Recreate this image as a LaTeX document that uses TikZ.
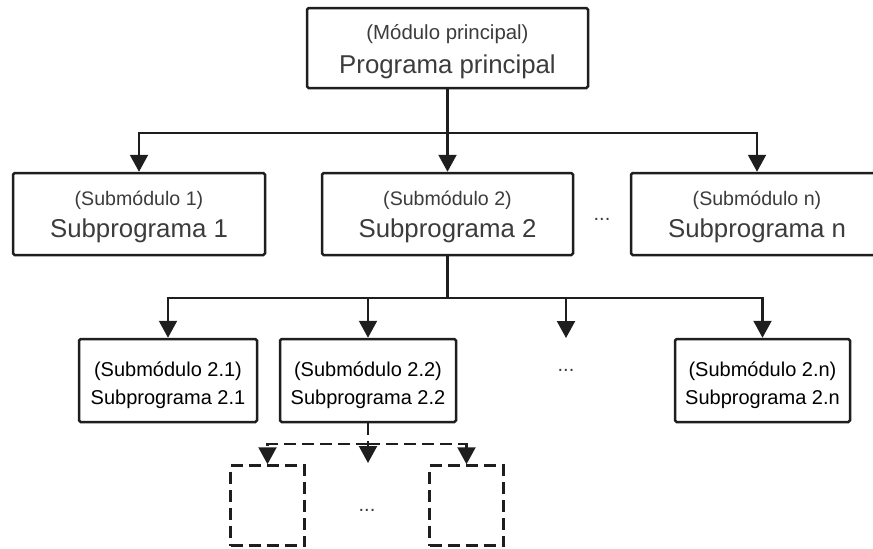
\documentclass[tikz,border=0pt]{standalone}
\usepackage{fontspec}
\setmainfont{Liberation Sans}
\usetikzlibrary{arrows.meta}
\definecolor{ink}{HTML}{1E1E1E}
\definecolor{txt}{HTML}{3C3C3C}
\newcommand{\toppad}[1]{\rule{0pt}{#1}}
\begin{document}
\begin{tikzpicture}[x=0.5pt,y=-0.5pt,
  box/.style={draw=ink, line width=1.25pt, rounded corners=0.8pt, fill=white,
    inner sep=0pt, align=center, text=txt},
  bigbox/.style={box, font=\fontsize{12.9}{14.5}\selectfont},
  smallbox/.style={box, text=black, font=\fontsize{10}{13.5}\selectfont},
  ghost/.style={draw=ink, line width=1.25pt, dash pattern=on 6pt off 3pt,
    minimum width=37pt, minimum height=40pt, inner sep=0pt},
  link/.style={draw=ink, line width=1.1pt},
  arr/.style={link, -{Triangle[width=9pt,length=8.5pt]}},
  darr/.style={arr, dash pattern=on 6pt off 3pt},
  dots/.style={text=txt, font=\fontsize{10}{12}\selectfont}
]
\useasboundingbox (0,0) rectangle (873,548);
\clip (0,0) rectangle (873,548);

% main module
\node[bigbox, minimum width=140.5pt, minimum height=40pt] (top) at (447.5,48)
  {{\fontsize{10.2}{12}\selectfont\toppad{11.5pt}(Módulo principal)}\\[2.6pt]Programa principal};

% first level
\node[bigbox, minimum width=126pt, minimum height=41pt] (s1) at (139,214)
  {{\fontsize{9.8}{12}\selectfont\toppad{10.5pt}(Submódulo 1)}\\[1.5pt]Subprograma 1};
\node[bigbox, minimum width=125.5pt, minimum height=41pt] (s2) at (447.5,214)
  {{\fontsize{9.8}{12}\selectfont\toppad{10.5pt}(Submódulo 2)}\\[1.5pt]Subprograma 2};
\node[bigbox, minimum width=126pt, minimum height=41pt] (sn) at (757,214)
  {{\fontsize{9.8}{12}\selectfont\toppad{10.5pt}(Submódulo n)}\\[1.5pt]Subprograma n};
\node[dots] (dots1) at (602,219) {...};

% second level
\node[smallbox, minimum width=89pt, minimum height=41.5pt] (s21) at (168,380.5)
  {\toppad{12pt}(Submódulo 2.1)\\[0.5pt]Subprograma 2.1};
\node[smallbox, minimum width=88pt, minimum height=41.5pt] (s22) at (368,380.5)
  {\toppad{12pt}(Submódulo 2.2)\\[0.5pt]Subprograma 2.2};
\node[smallbox, minimum width=87.5pt, minimum height=41.5pt] (s2n) at (762.5,380.5)
  {\toppad{12pt}(Submódulo 2.n)\\[0.5pt]Subprograma 2.n};
\node[dots] (dots2) at (566,370) {...};

% third level (placeholders)
\node[ghost] (d1) at (267.5,505.5) {};
\node[ghost] (d2) at (466.5,505.5) {};
\node[dots] (dots3) at (367,510) {...};

% junction points
\coordinate (b1) at (447.5,133);
\coordinate (b2) at (447.5,298);
\coordinate (b3) at (368,444);
\coordinate (e2) at (566,338);
\coordinate (e3) at (368,463);

% connectors
\draw[link] (top.south) -- (b1);
\draw[arr] (b1) -| (s1.north);
\draw[arr] (b1) -- (s2.north);
\draw[arr] (b1) -| (sn.north);

\draw[link] (s2.south) -- (b2);
\draw[arr] (b2) -| (s21.north);
\draw[arr] (b2) -| (s22.north);
\draw[arr] (b2) -| (e2);
\draw[arr] (b2) -| (s2n.north);

\draw[link, dash pattern=on 6pt off 3pt] (s22.south) -- (b3);
\draw[darr] (b3) -| (d1.north);
\draw[darr] (b3) -- (e3);
\draw[darr] (b3) -| (d2.north);
\end{tikzpicture}
\end{document}
